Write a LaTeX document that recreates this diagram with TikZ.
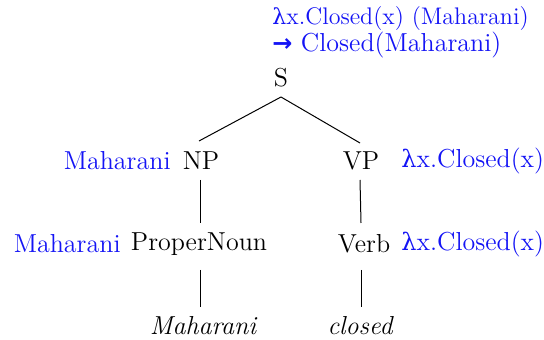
\documentclass[tikz,border=0pt]{standalone}
\usepackage{fontspec}
\newfontfamily\gk{DejaVu Serif}
\newfontfamily\arr{DejaVu Sans}
\definecolor{sem}{RGB}{20,20,245}
\newcommand{\lam}{{\gk\fontsize{12}{14}\selectfont λ}}
\newcommand{\lamsm}{{\gk\fontsize{11}{13}\selectfont λ}}
\begin{document}
\begin{tikzpicture}[x=0.5pt,y=-0.5pt,
  every node/.style={inner sep=0pt,font=\fontsize{13}{15}\selectfont},
  cat/.style={text=black},
  semv/.style={text=sem},
  edge/.style={draw=black,line width=0.5pt}]
\useasboundingbox (0,0) rectangle (544,340);
\node[semv,anchor=west,font=\fontsize{12}{14}\selectfont] (s1) at (272,19) {\lamsm x.Closed(x) (Maharani)};
\node[semv,anchor=west] (s2) at (272,45) {{\arr\fontsize{12}{13}\selectfont\bfseries →} Closed(Maharani)};
\node[cat] (S) at (281,78) {S};
\node[cat] (NP) at (201,161) {NP};
\node[semv,anchor=east] (npsem) at (171,161) {Maharani};
\node[cat] (VP) at (361,161) {VP};
\node[semv,anchor=west] (vpsem) at (401,161) {\lam x.Closed(x)};
\node[cat] (PN) at (199,244) {ProperNoun};
\node[semv,anchor=east] (pnsem) at (121,244) {Maharani};
\node[cat] (V) at (364,244) {Verb};
\node[semv,anchor=west] (vsem) at (401,244) {\lam x.Closed(x)};
\node[cat] (w1) at (203,326) {\itshape Maharani};
\node[cat] (w2) at (360,326) {\itshape closed};
\coordinate (Sb) at (281,97);
\coordinate (NPt) at (199,141);
\coordinate (VPt) at (360,143);
\draw[edge] (Sb) -- (NPt);
\draw[edge] (Sb) -- (VPt);
\draw[edge] (200,180) -- (200,223);
\draw[edge] (360,180) -- (361,223);
\draw[edge] (200,270) -- (200,307);
\draw[edge] (361,270) -- (361,307);
\end{tikzpicture}
\end{document}
